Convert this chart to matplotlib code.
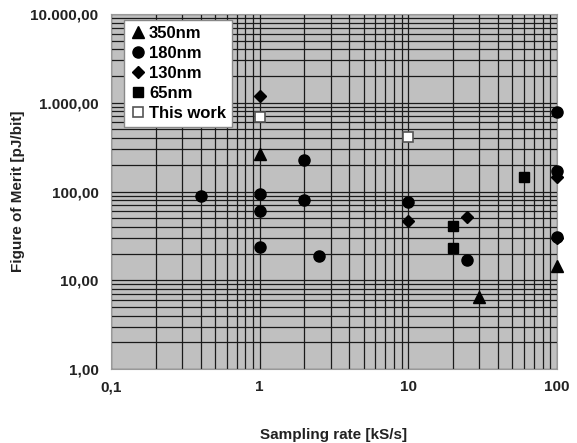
import numpy as np
import matplotlib
matplotlib.use("Agg")
import matplotlib.pyplot as plt

# data (x = sampling rate kS/s, y = FoM pJ/bit)
x_350 = [1, 30, 100]
y_350 = [265, 6.5, 14.5]

x_180 = [0.4, 1, 1, 1, 2, 2, 2.5, 10, 25, 100, 100, 100]
y_180 = [89, 94, 60, 24, 226, 80, 19, 76, 17, 790, 172, 31]

x_130 = [1, 10, 25, 100, 100]
y_130 = [1190, 47, 52, 145, 30]

x_65 = [20, 20, 60]
y_65 = [41, 23, 147]

x_this = [1, 10]
y_this = [690, 415]

xticks = [0.1, 1, 10, 100]
xtick_labels = ["0,1", "1", "10", "100"]
yticks = [1, 10, 100, 1000, 10000]
ytick_labels = ["1,00", "10,00", "100,00", "1.000,00", "10.000,00"]

plt.rcParams['font.family'] = ['Liberation Sans', 'DejaVu Sans']
plt.rcParams['font.weight'] = 'bold'

fig = plt.figure(figsize=(5.77, 4.43), dpi=100)
ax = fig.add_axes([111 / 577, 1 - 369 / 443, (557 - 111) / 577, (369 - 14) / 443])
ax.set_facecolor('#c0c0c0')

ax.set_xscale('log')
ax.set_yscale('log')
ax.set_xlim(0.1, 100)
ax.set_ylim(1, 10000)

ax.grid(True, which='both', color='#1a1a1a', linewidth=0.9)
ax.set_axisbelow(True)

ms = 8
ax.plot(x_350, y_350, '^', color='black', markersize=ms + 0.5, linestyle='none', label='350nm', zorder=3, clip_on=False)
ax.plot(x_180, y_180, 'o', color='black', markersize=ms, linestyle='none', label='180nm', zorder=3, clip_on=False)
ax.plot(x_130, y_130, 'D', color='black', markersize=ms - 2, linestyle='none', label='130nm', zorder=3, clip_on=False)
ax.plot(x_65, y_65, 's', color='black', markersize=ms - 0.5, linestyle='none', label='65nm', zorder=3, clip_on=False)
ax.plot(x_this, y_this, 's', markerfacecolor='white', markeredgecolor='#555555', markeredgewidth=1.2,
        markersize=ms - 0.5, linestyle='none', label='This work', zorder=3, clip_on=False)

ax.set_xticks(xticks)
ax.set_xticklabels(xtick_labels)
ax.set_yticks(yticks)
ax.set_yticklabels(ytick_labels)
ax.tick_params(axis='both', which='both', labelsize=11, length=0, pad=8)
ax.tick_params(axis='y', pad=9)
for lab in ax.get_xticklabels() + ax.get_yticklabels():
    lab.set_fontweight('bold')
    lab.set_color('#222222')

for s in ax.spines.values():
    s.set_color('#999999')
    s.set_linewidth(0.8)

leg = ax.legend(loc='upper left', bbox_to_anchor=(0.029, 0.983), frameon=True, fancybox=False,
                edgecolor='#888888', framealpha=1, fontsize=12, handletextpad=0.15,
                handlelength=1.0, borderpad=0.35, labelspacing=0.3, borderaxespad=0)
for t in leg.get_texts():
    t.set_fontweight('bold')

fig.text(334 / 577, 1 - 435 / 443, 'Sampling rate [kS/s]', ha='center', va='center',
         fontsize=11, fontweight='bold', color='#222222')
fig.text(18 / 577, 1 - 191 / 443, 'Figure of Merit [pJ/bit]', ha='center', va='center',
         rotation=90, fontsize=11, fontweight='bold', color='#222222')

fig.savefig('out.png', dpi=100)
